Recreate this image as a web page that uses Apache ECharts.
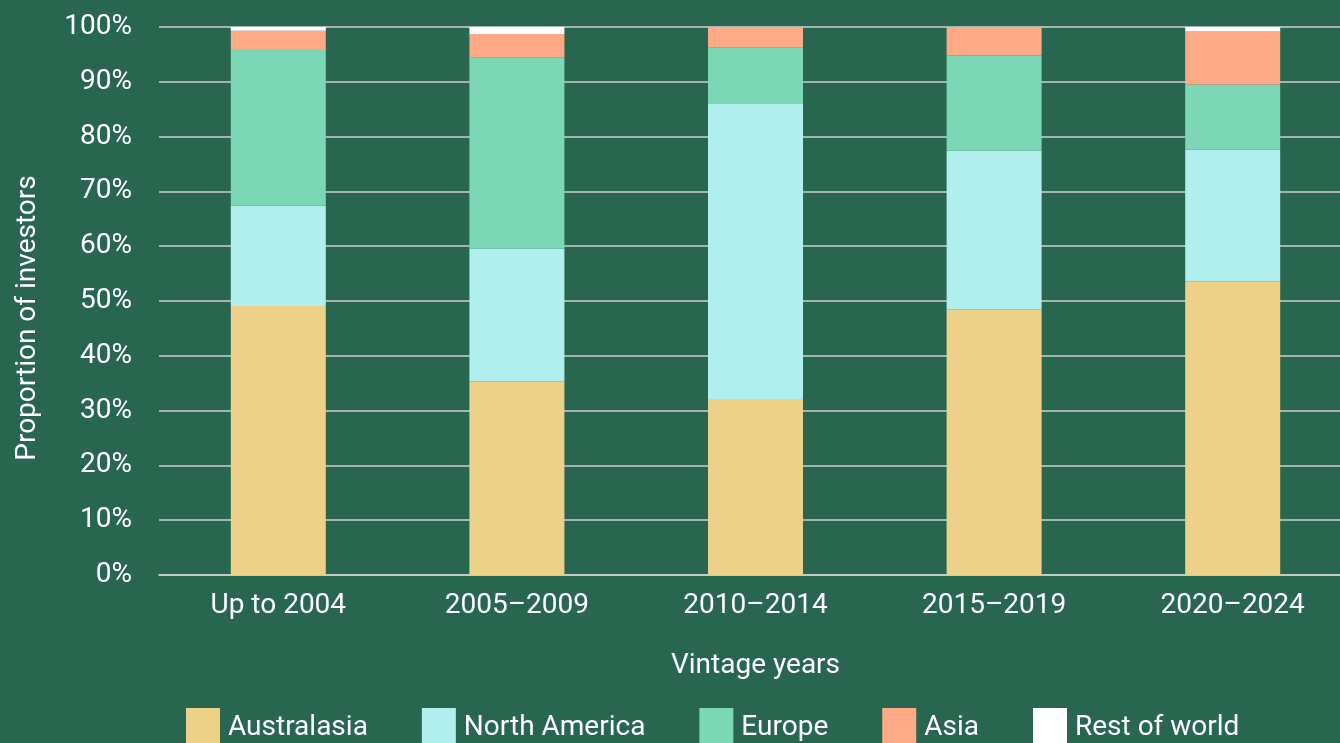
<!DOCTYPE html>
<html>
<head>
<meta charset="utf-8">
<title>Investors by vintage</title>
<script src="https://cdn.jsdelivr.net/npm/echarts@6/dist/echarts.min.js"></script>
<style>
    html, body { margin: 0; padding: 0; background: #28664f; }
    #investorsByRegion { width: 1340px; height: 743px; }
</style>
</head>
<body>
<div id="investorsByRegion"></div>
<script>
var vintages = ['Up to 2004', '2005\u20132009', '2010\u20132014', '2015\u20132019', '2020\u20132024'];

var australasia = [49.1, 35.3, 32.1, 48.5, 53.6];
var northAmerica = [18.3, 24.3, 54.0, 28.9, 24.0];
var europe = [28.6, 34.9, 10.2, 17.4, 11.9];
var asia = [3.3, 4.2, 3.7, 5.2, 9.7];
var restOfWorld = [0.7, 1.3, 0, 0, 0.8];

var yTicks = [0, 10, 20, 30, 40, 50, 60, 70, 80, 90, 100];

var regions = [
    { name: 'Australasia', data: australasia, color: '#eed189' },
    { name: 'North America', data: northAmerica, color: '#b1eeee' },
    { name: 'Europe', data: europe, color: '#7bd7b5' },
    { name: 'Asia', data: asia, color: '#ffa987' },
    { name: 'Rest of world', data: restOfWorld, color: '#ffffff' }
];

var font = 'Roboto';
var lineColor = '#cfcfcf';

var series = [];
regions.forEach(item => {
    series.push({
        name: item.name,
        type: 'bar',
        stack: 'total',
        barWidth: 95,
        data: item.data,
        itemStyle: { color: item.color },
        emphasis: { disabled: true }
    });
});

var myChart = echarts.init(document.getElementById('investorsByRegion'));
var option = {
    backgroundColor: '#28664f',
    animation: false,
    textStyle: { fontFamily: font, color: '#ffffff' },
    // plot runs a little past the right edge, like the original
    grid: {
        left: 159,
        top: 27,
        width: 1193,
        height: 548,
        outerBoundsMode: 'none'
    },
    // legend swatches are cut off by the bottom edge in the original
    legend: {
        left: 181,
        top: 703,
        itemWidth: 34,
        itemHeight: 40,
        itemGap: 54,
        icon: 'rect',
        textStyle: { fontFamily: font, fontSize: 28, color: '#ffffff', padding: [0, 0, 0, 3] },
        data: regions.map(r => r.name)
    },
    xAxis: {
        type: 'category',
        data: vintages,
        name: 'Vintage years',
        nameLocation: 'middle',
        nameGap: 77,
        nameTextStyle: { fontFamily: font, fontSize: 28, color: '#ffffff' },
        axisTick: { show: false },
        axisLine: { lineStyle: { color: lineColor, width: 1.5 } },
        axisLabel: { fontFamily: font, fontSize: 28, color: '#ffffff', margin: 17 }
    },
    yAxis: {
        type: 'value',
        min: yTicks[0],
        max: yTicks[yTicks.length - 1],
        interval: yTicks[1] - yTicks[0],
        name: 'Proportion of investors',
        nameLocation: 'middle',
        nameGap: 117,
        nameTextStyle: { fontFamily: font, fontSize: 28, color: '#ffffff', padding: [0, 34, 0, 0] },
        axisLine: { show: false },
        axisTick: { show: false },
        splitLine: { lineStyle: { color: lineColor, width: 1.5 } },
        axisLabel: { fontFamily: font, fontSize: 28, color: '#ffffff', margin: 27, formatter: '{value}%' }
    },
    series: series
};
myChart.setOption(option, true);

window.addEventListener('resize', function () {
    myChart.resize();
});
</script>
</body>
</html>
